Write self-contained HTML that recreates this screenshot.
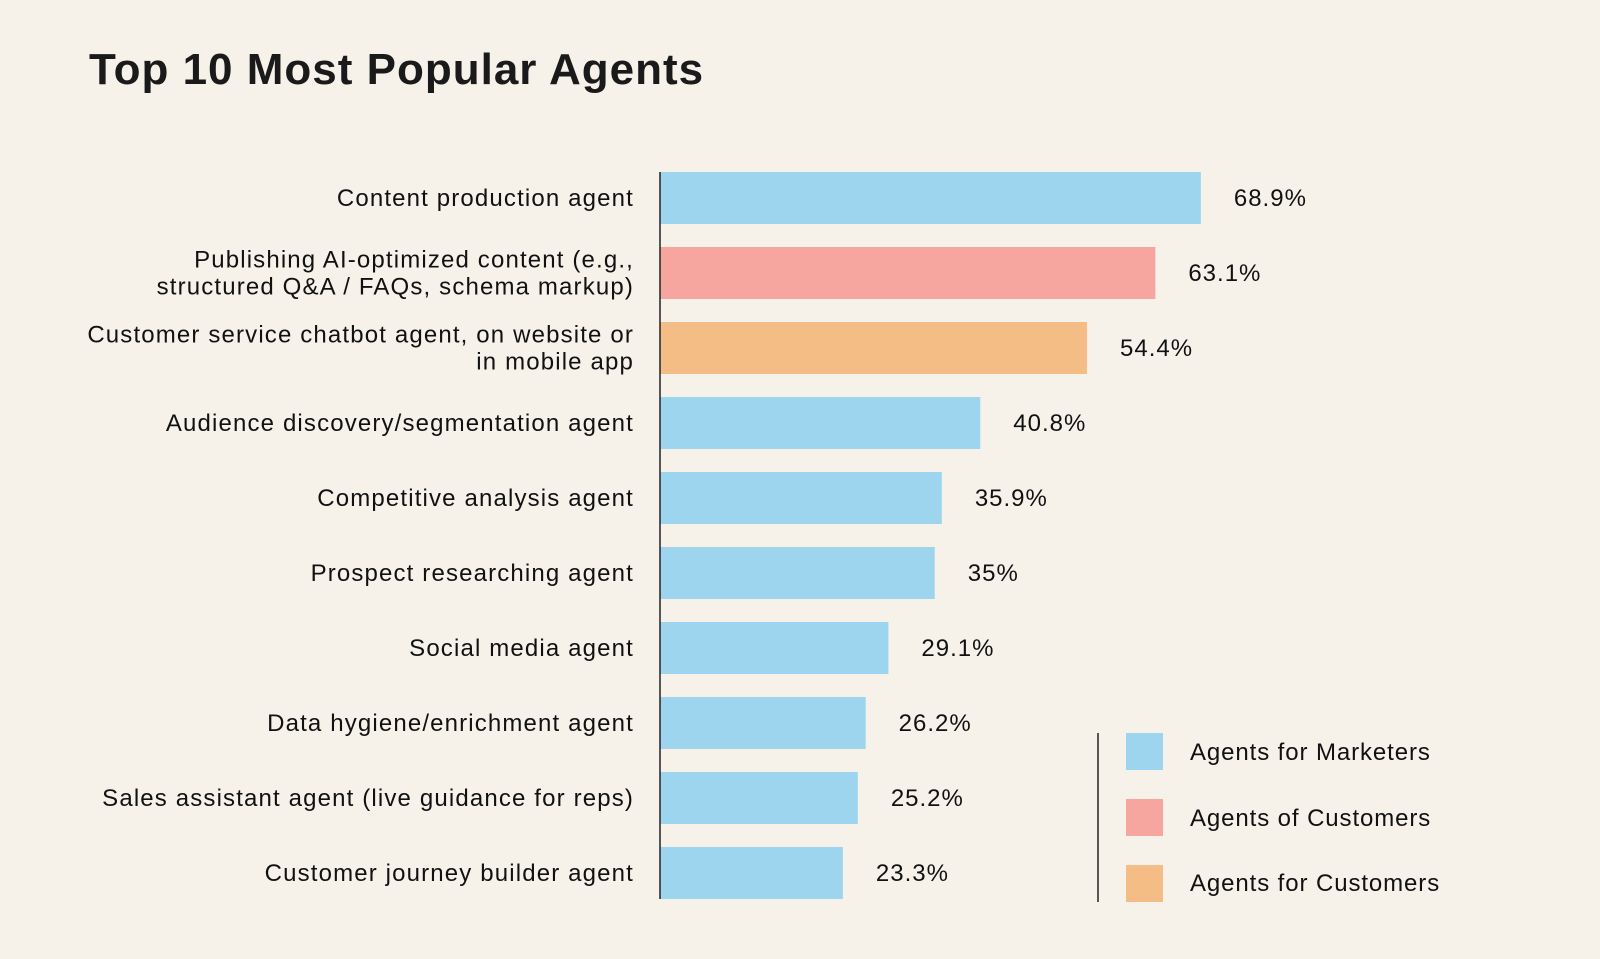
<!DOCTYPE html>
<html><head><meta charset="utf-8"><style>
html,body{margin:0;padding:0;background:#f6f2ea;}
svg{display:block;font-family:"Liberation Sans",Arial,sans-serif;}
</style></head><body>
<svg id="chart" width="1600" height="959" viewBox="0 0 1600 959">
<rect width="1600" height="959" fill="#f6f2ea"/>
<text x="89" y="84" font-size="44" font-weight="bold" letter-spacing="1" fill="#1a1a1a">Top 10 Most Popular Agents</text>
<g id="bars"></g>
<line x1="660" y1="172" x2="660" y2="899" stroke="#222" stroke-width="1.5"/>
<g font-size="24" letter-spacing="0.9" fill="#111">
<line x1="1098" y1="733" x2="1098" y2="902" stroke="#222" stroke-width="1.5"/>
<g><rect x="1126" y="733" width="37" height="37" fill="#9dd5ef"/><text x="1190" y="760">Agents for Marketers</text></g>
<g><rect x="1126" y="799" width="37" height="37" fill="#f7a59f"/><text x="1190" y="826">Agents of Customers</text></g>
<g><rect x="1126" y="865" width="37" height="37" fill="#f3bd85"/><text x="1190" y="891">Agents for Customers</text></g>
</g>
</svg>
<script>
const categories = [
 ["Content production agent"],
 ["Publishing AI-optimized content (e.g.,","structured Q&A / FAQs, schema markup)"],
 ["Customer service chatbot agent, on website or","in mobile app"],
 ["Audience discovery/segmentation agent"],
 ["Competitive analysis agent"],
 ["Prospect researching agent"],
 ["Social media agent"],
 ["Data hygiene/enrichment agent"],
 ["Sales assistant agent (live guidance for reps)"],
 ["Customer journey builder agent"]
];
const values = [68.9, 63.1, 54.4, 40.8, 35.9, 35, 29.1, 26.2, 25.2, 23.3];
const valueLabels = ["68.9%","63.1%","54.4%","40.8%","35.9%","35%","29.1%","26.2%","25.2%","23.3%"];
const groups = ["marketers","of","for","marketers","marketers","marketers","marketers","marketers","marketers","marketers"];
const colors = {marketers:"#9dd5ef", of:"#f7a59f", for:"#f3bd85"};
const NS="http://www.w3.org/2000/svg";
const x0=660, pxPer=7.85, top0=172, pitch=75, bh=52;
const xScale=v=>v*pxPer;
const yScale=i=>top0+i*pitch;
const g=document.getElementById('bars');
categories.forEach((lines,i)=>{
  const y=yScale(i), cy=y+bh/2;
  const r=document.createElementNS(NS,'rect');
  r.setAttribute('x',x0);r.setAttribute('y',y);r.setAttribute('width',xScale(values[i]));r.setAttribute('height',bh);
  r.setAttribute('fill',colors[groups[i]]);
  
  
  g.appendChild(r);
  const v=document.createElementNS(NS,'text');
  v.setAttribute('x',x0+xScale(values[i])+33);v.setAttribute('y',cy+8);
  v.setAttribute('font-size','24');v.setAttribute('letter-spacing','1');v.setAttribute('fill','#111');
  v.textContent=valueLabels[i];
  
  
  g.appendChild(v);
  const t=document.createElementNS(NS,'text');
  t.setAttribute('text-anchor','end');t.setAttribute('font-size','24');t.setAttribute('letter-spacing','1.15');t.setAttribute('fill','#111');
  
  
  const startY = cy+8-(lines.length-1)*13.5;
  lines.forEach((ln,j)=>{
    const s=document.createElementNS(NS,'tspan');
    s.setAttribute('x',634);s.setAttribute('y',startY+j*27);
    s.textContent=ln;t.appendChild(s);
  });
  g.appendChild(t);
});
</script>
</body></html>
